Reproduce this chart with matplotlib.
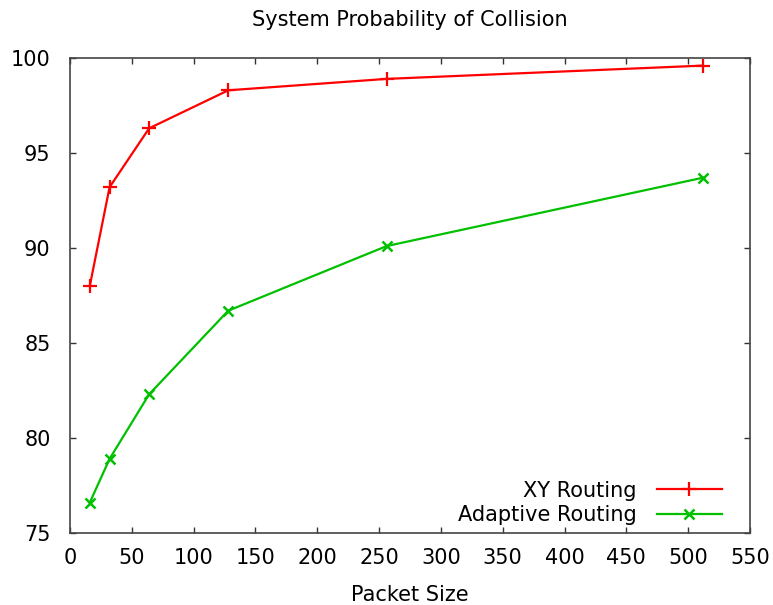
import matplotlib
matplotlib.use('Agg')
import matplotlib.pyplot as plt

packet_size = [16, 32, 64, 128, 256, 512]
xy_routing = [88.0, 93.2, 96.3, 98.3, 98.9, 99.6]
adaptive_routing = [76.6, 78.9, 82.3, 86.7, 90.1, 93.7]

plt.rcParams['font.family'] = 'DejaVu Sans'

fig = plt.figure(figsize=(7.73, 6.05), dpi=100)
ax = fig.add_axes([70/773, 72/605, 680/773, 475/605])

ax.plot(packet_size, xy_routing, color='#ff0000', lw=1.6, marker='+', ms=10, mew=1.6,
        label='XY Routing')
ax.plot(packet_size, adaptive_routing, color='#00c000', lw=1.6, marker='x', ms=7.5, mew=1.8,
        label='Adaptive Routing')

ax.set_xlim(0, 550)
ax.set_ylim(75, 100)
ax.set_xticks(range(0, 551, 50))
ax.set_yticks(range(75, 101, 5))
ax.tick_params(direction='in', top=True, right=True, labelsize=15, length=4.5,
               width=1, color='#333333')
ax.tick_params(axis='y', pad=14)
ax.tick_params(axis='x', pad=11)
for s in ax.spines.values():
    s.set_color('#444444')
    s.set_linewidth(1.2)

ax.set_xlabel('Packet Size', fontsize=15, labelpad=12)
ax.set_title('System Probability of Collision', fontsize=15, pad=23)

leg = ax.legend(loc='lower right', bbox_to_anchor=(1 - 22/680, 0.004), frameon=False,
                markerfirst=False, fontsize=15, handlelength=3.1, handletextpad=1.0,
                labelspacing=0.2, borderaxespad=0, borderpad=0.3)

fig.savefig('out.png', dpi=100)
